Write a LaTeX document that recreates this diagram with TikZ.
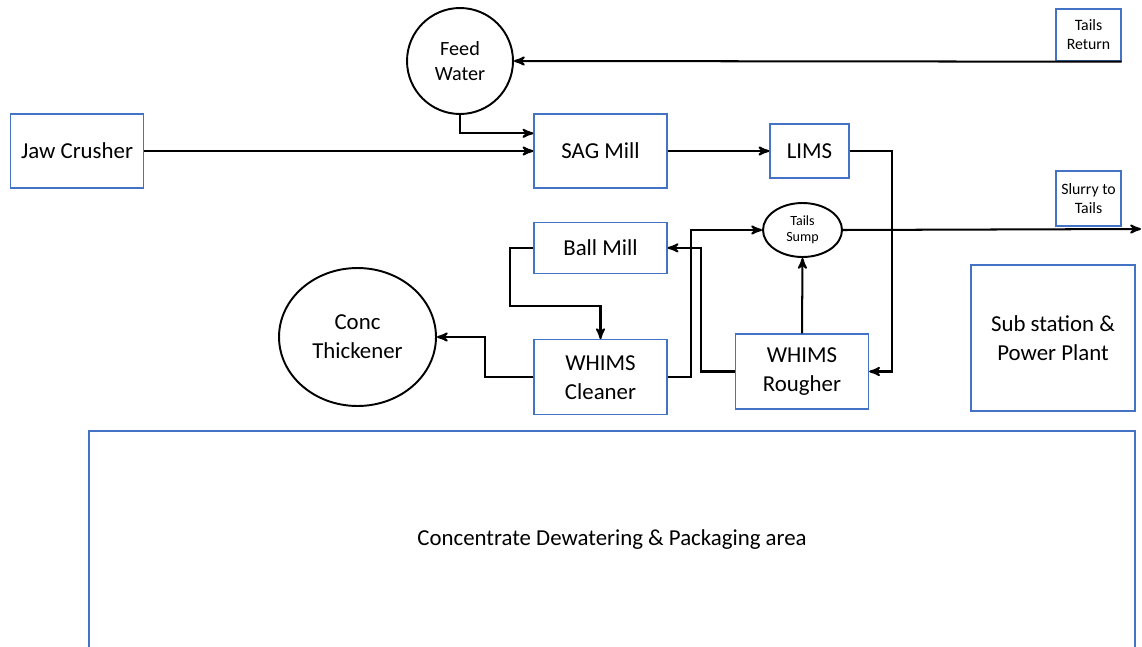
\documentclass[tikz,border=0pt]{standalone}
\usepackage{fontspec}
\setmainfont{Carlito}
\usetikzlibrary{arrows,shapes,positioning}
\definecolor{boxblue}{RGB}{68,114,196}
\tikzstyle{block} = [rectangle, draw=boxblue, line width=0.8pt, text centered,
    align=center, inner sep=0pt, font=\fontsize{13}{16.4}\selectfont]
\tikzstyle{unit} = [block, minimum width=2.66cm, minimum height=1.48cm]
\tikzstyle{tag} = [block, minimum width=1.3cm, font=\fontsize{9}{10.8}\selectfont]
\tikzstyle{tank} = [ellipse, draw, line width=1.1pt, inner sep=0pt, align=center,
    font=\fontsize{13}{16.4}\selectfont]
\tikzstyle{flow} = [->, line width=1.15pt]

\begin{document}
\begin{tikzpicture}[x=0.02cm,y=-0.02cm,>=stealth',shorten >=0pt]
  \useasboundingbox (0,0) rectangle (1142,646);
  \clip (0,0) rectangle (1142,646);

  % crushing and milling
  \node[unit] (jaw) at (77,151) {Jaw Crusher};
  \node[unit] (sag) at (600.5,151) {SAG Mill};
  \node[tank, minimum size=2.12cm, font=\fontsize{11.5}{14.2}\selectfont] (fw) at (460,61) {Feed\\Water};
  \node[block, minimum width=1.58cm, minimum height=1.08cm] (lims) at (809.5,151) {LIMS};
  \node[block, minimum width=2.66cm, minimum height=1.02cm] (ball) [below=0.66cm of sag] {Ball Mill};
  \node[unit, minimum height=1.5cm] (cleaner) [below=1.3cm of ball] {WHIMS\\Cleaner};
  \node[unit, minimum height=1.5cm] (rougher) at (802,371.5) {WHIMS\\Rougher};
  \node[tank, minimum width=1.58cm, minimum height=1.08cm, font=\fontsize{8}{9}\selectfont] (sump) at (802.5,230) {Tails\\Sump};
  \node[tank, minimum width=3.14cm, minimum height=2.76cm] (thick) at (357.5,337) {Conc\\Thickener};

  % side areas
  \node[tag, minimum height=1.04cm] (tret) at (1088.5,35) {Tails\\Return};
  \node[tag, minimum height=1.1cm] (slurry) at (1088.5,198.5) {Slurry to\\Tails};
  \node[block, minimum width=3.28cm, minimum height=2.92cm] (sub) at (1053,338) {Sub station \&\\Power Plant};
  \node[block, minimum width=20.92cm, minimum height=4.36cm] (area) at (612,540) {Concentrate Dewatering \& Packaging area};
  \coordinate (tailsout) at (1141,229);

  % flows
  \draw[flow] (jaw.east) -- (sag.west);
  \draw[flow] (fw.south) |- ([yshift=-0.4cm]sag.north west);
  \draw[flow] (tret.south east) -- (fw.east);
  \draw[flow] (sag.east) -- (lims.west);
  \draw[flow] (lims.east) -- ++(42,0) |- (rougher.east);
  \draw[flow] (rougher.north) -- (sump.south);
  \draw[flow] (sump.east) -- (tailsout);
  \draw[flow] (rougher.west) -- ++(-34,0) |- (ball.east);
  \draw[flow] (cleaner.east) -- ++(23,0) |- (sump.west);
  \draw[flow] (ball.west) -- ++(-23,0) -- ++(0,58) -| (cleaner.north);
  \draw[flow] (cleaner.west) -- ++(-48,0) |- (thick.east);
\end{tikzpicture}
\end{document}
